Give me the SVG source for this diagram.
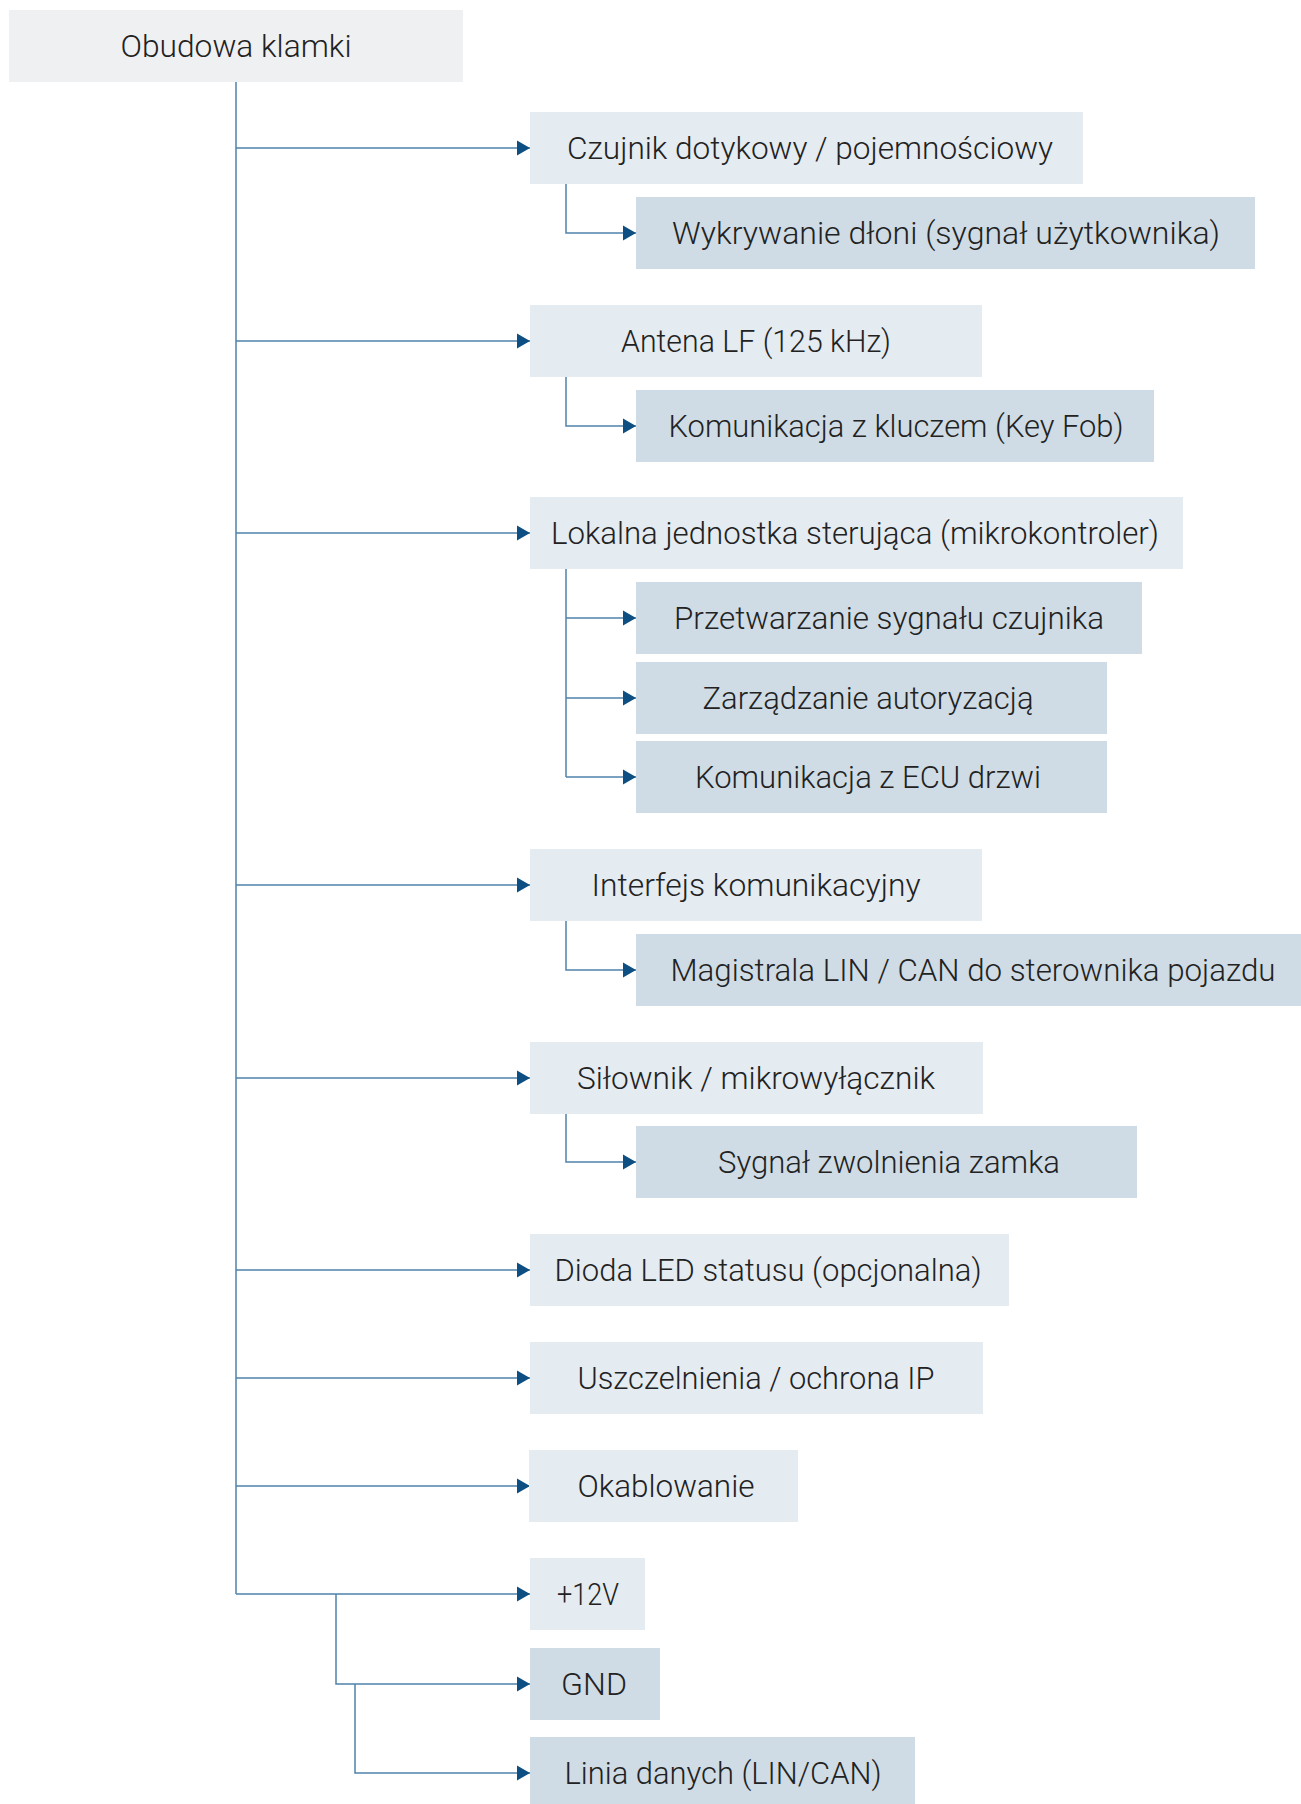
<svg xmlns="http://www.w3.org/2000/svg" width="1301" height="1804" viewBox="0 0 1301 1804">
<defs>
<marker id="arr" markerUnits="userSpaceOnUse" markerWidth="15" markerHeight="16" refX="13" refY="8" orient="auto">
<path d="M0,0.5 L13,8 L0,15.5 Z" fill="#0d4f82"/>
</marker>
<style>
.root{fill:#eef0f2}
.l1{fill:#e4ebf1}
.l2{fill:#cfdce5}
text{font-family:Roboto,"Liberation Sans",sans-serif;font-weight:300;font-size:32px;fill:#222;text-anchor:middle}
.c{fill:none;stroke:#4f82ac;stroke-width:1.5}
.a{marker-end:url(#arr)}
</style>
</defs>
<rect width="1301" height="1804" fill="#fff"/>
<g id="connectors">
<path class="c" d="M236,82 V1594"/>
<path class="c a" d="M236,148 H530"/>
<path class="c a" d="M236,341 H530"/>
<path class="c a" d="M236,533 H530"/>
<path class="c a" d="M236,885 H530"/>
<path class="c a" d="M236,1078 H530"/>
<path class="c a" d="M236,1270 H530"/>
<path class="c a" d="M236,1378 H530"/>
<path class="c a" d="M236,1486 H530"/>
<path class="c a" d="M236,1594 H530"/>
<path class="c a" d="M336,1594 V1684 H530"/>
<path class="c a" d="M355,1684 V1773 H530"/>
<path class="c a" d="M566,184 V233 H636"/>
<path class="c a" d="M566,377 V426 H636"/>
<path class="c" d="M566,569 V777"/>
<path class="c a" d="M566,618 H636"/>
<path class="c a" d="M566,698 H636"/>
<path class="c a" d="M566,777 H636"/>
<path class="c a" d="M566,921 V970 H636"/>
<path class="c a" d="M566,1114 V1162 H636"/>
</g>
<g id="n-root"><rect class="root" x="9" y="10" width="454" height="72"/><text x="236" y="57" textLength="231" lengthAdjust="spacingAndGlyphs">Obudowa klamki</text></g>
<g id="n-czujnik"><rect class="l1" x="530" y="112" width="553" height="72"/><text x="810" y="159" textLength="486" lengthAdjust="spacingAndGlyphs">Czujnik dotykowy / pojemnościowy</text></g>
<g id="n-wykrywanie"><rect class="l2" x="636" y="197" width="619" height="72"/><text x="946" y="244" textLength="548" lengthAdjust="spacingAndGlyphs">Wykrywanie dłoni (sygnał użytkownika)</text></g>
<g id="n-antena"><rect class="l1" x="530" y="305" width="452" height="72"/><text x="756" y="352" textLength="270" lengthAdjust="spacingAndGlyphs">Antena LF (125 kHz)</text></g>
<g id="n-klucz"><rect class="l2" x="636" y="390" width="518" height="72"/><text x="896" y="437" textLength="455" lengthAdjust="spacingAndGlyphs">Komunikacja z kluczem (Key Fob)</text></g>
<g id="n-lokalna"><rect class="l1" x="530" y="497" width="653" height="72"/><text x="855" y="544" textLength="608" lengthAdjust="spacingAndGlyphs">Lokalna jednostka sterująca (mikrokontroler)</text></g>
<g id="n-przetwarzanie"><rect class="l2" x="636" y="582" width="506" height="72"/><text x="889" y="629" textLength="430" lengthAdjust="spacingAndGlyphs">Przetwarzanie sygnału czujnika</text></g>
<g id="n-zarzadzanie"><rect class="l2" x="636" y="662" width="471" height="72"/><text x="868" y="709" textLength="331" lengthAdjust="spacingAndGlyphs">Zarządzanie autoryzacją</text></g>
<g id="n-ecu"><rect class="l2" x="636" y="741" width="471" height="72"/><text x="868" y="788" textLength="346" lengthAdjust="spacingAndGlyphs">Komunikacja z ECU drzwi</text></g>
<g id="n-interfejs"><rect class="l1" x="530" y="849" width="452" height="72"/><text x="756" y="896" textLength="329" lengthAdjust="spacingAndGlyphs">Interfejs komunikacyjny</text></g>
<g id="n-magistrala"><rect class="l2" x="636" y="934" width="675" height="72"/><text x="973" y="981" textLength="605" lengthAdjust="spacingAndGlyphs">Magistrala LIN / CAN do sterownika pojazdu</text></g>
<g id="n-silownik"><rect class="l1" x="530" y="1042" width="453" height="72"/><text x="756" y="1089" textLength="358" lengthAdjust="spacingAndGlyphs">Siłownik / mikrowyłącznik</text></g>
<g id="n-sygnal"><rect class="l2" x="636" y="1126" width="501" height="72"/><text x="889" y="1173" textLength="342" lengthAdjust="spacingAndGlyphs">Sygnał zwolnienia zamka</text></g>
<g id="n-dioda"><rect class="l1" x="530" y="1234" width="479" height="72"/><text x="768" y="1281" textLength="427" lengthAdjust="spacingAndGlyphs">Dioda LED statusu (opcjonalna)</text></g>
<g id="n-uszczelnienia"><rect class="l1" x="530" y="1342" width="453" height="72"/><text x="756" y="1389" textLength="357" lengthAdjust="spacingAndGlyphs">Uszczelnienia / ochrona IP</text></g>
<g id="n-okablowanie"><rect class="l1" x="529" y="1450" width="269" height="72"/><text x="666" y="1497" textLength="177" lengthAdjust="spacingAndGlyphs">Okablowanie</text></g>
<g id="n-12v"><rect class="l1" x="530" y="1558" width="115" height="72"/><text x="588" y="1605" textLength="62" lengthAdjust="spacingAndGlyphs">+12V</text></g>
<g id="n-gnd"><rect class="l2" x="530" y="1648" width="130" height="72"/><text x="594" y="1695" textLength="66" lengthAdjust="spacingAndGlyphs">GND</text></g>
<g id="n-linia"><rect class="l2" x="530" y="1737" width="385" height="72"/><text x="723" y="1784" textLength="317" lengthAdjust="spacingAndGlyphs">Linia danych (LIN/CAN)</text></g>
</svg>
